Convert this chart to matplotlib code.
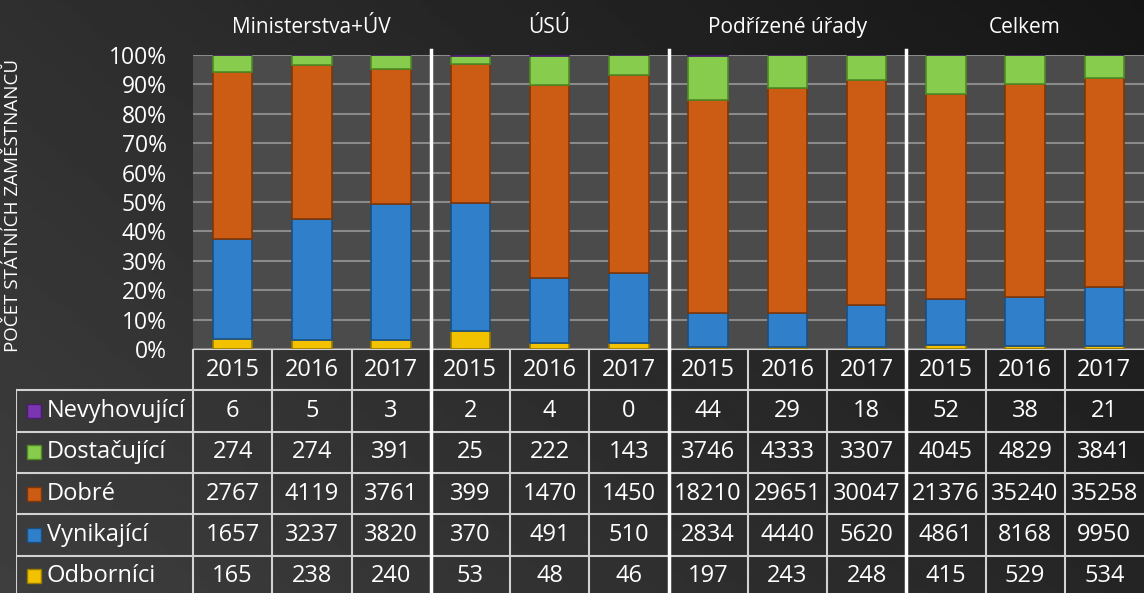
import numpy as np
import matplotlib.pyplot as plt
from matplotlib.patches import Rectangle

plt.rcParams['font.family'] = ['Open Sans', 'DejaVu Sans']

# ---- data ----
groups = ['Ministerstva+ÚV', 'ÚSÚ', 'Podřízené úřady', 'Celkem']
years = ['2015', '2016', '2017']
series = ['Nevyhovující', 'Dostačující', 'Dobré', 'Vynikající', 'Odborníci']

nevyhovujici = [6, 5, 3, 2, 4, 0, 44, 29, 18, 52, 38, 21]
dostacujici = [274, 274, 391, 25, 222, 143, 3746, 4333, 3307, 4045, 4829, 3841]
dobre = [2767, 4119, 3761, 399, 1470, 1450, 18210, 29651, 30047, 21376, 35240, 35258]
vynikajici = [1657, 3237, 3820, 370, 491, 510, 2834, 4440, 5620, 4861, 8168, 9950]
odbornici = [165, 238, 240, 53, 48, 46, 197, 243, 248, 415, 529, 534]

colors = {
    'Nevyhovující': '#7a35b0',
    'Dostačující': '#88cc4e',
    'Dobré': '#cc5c14',
    'Vynikající': '#2f7fca',
    'Odborníci': '#f2c200',
}
edges = {
    'Nevyhovující': '#4a1c70',
    'Dostačující': '#4f8a24',
    'Dobré': '#7e3608',
    'Vynikající': '#1a4f82',
    'Odborníci': '#9a7a00',
}

values = {
    'Nevyhovující': nevyhovujici,
    'Dostačující': dostacujici,
    'Dobré': dobre,
    'Vynikající': vynikajici,
    'Odborníci': odbornici,
}

W, H = 1144, 593
fig = plt.figure(figsize=(W / 100, H / 100), dpi=100)

# background gradient
bg = fig.add_axes([0, 0, 1, 1])
gx, gy = np.meshgrid(np.linspace(0, 1, 300), np.linspace(0, 1, 200))
grad = 0.245 - 0.10 * gx - 0.06 * gy
bg.imshow(grad, cmap='gray', vmin=0, vmax=1, aspect='auto', extent=[0, 1, 0, 1])
bg.set_xlim(0, 1)
bg.set_ylim(1, 0)
bg.axis('off')

# ---- bars ----
left_px, right_px = 193, 1144
top_px, base_px = 55, 349
ax = fig.add_axes([left_px / W, 1 - base_px / H, (right_px - left_px) / W, (base_px - top_px) / H])
ax.set_facecolor('#4b4b4b')

n = len(odbornici)
x = np.arange(n)
totals = np.sum([values[s] for s in series], axis=0)
bottom = np.zeros(n)
for s in series[::-1]:
    share = np.array(values[s]) / totals * 100
    ax.bar(x, share, width=0.5, bottom=bottom, color=colors[s],
           edgecolor=edges[s], linewidth=1.2, zorder=3)
    bottom += share

ax.set_xlim(-0.5, n - 0.5)
ax.set_ylim(0, 100)
ax.set_yticks(np.arange(0, 101, 10))
ax.set_yticklabels([f'{v}%' for v in range(0, 101, 10)])
ax.yaxis.grid(True, color='#8a8a8a', linewidth=1.5, zorder=0)
ax.set_xticks([])
ax.tick_params(axis='y', length=0, pad=19, labelsize=16.5, labelcolor='white')
for sp in ax.spines.values():
    sp.set_visible(False)

for k in (3, 6, 9):
    ax.plot([k - 0.5, k - 0.5], [0, 101.7], color='white', lw=2.5,
            clip_on=False, zorder=4)

for i, g in enumerate(groups):
    ax.text(3 * i + 1, 1.095, g, transform=ax.get_xaxis_transform(),
            ha='center', va='center', color='white', fontsize=15)

fig.text(12 / W, 1 - 352 / H, 'POČET STÁTNÍCH ZAMĚSTNANCŮ', rotation=90,
         ha='center', va='bottom', color='white', fontsize=13.5)

# ---- data table ----
colw = (right_px - left_px) / n
rowh = 41.3
tbl_left = 16
lab_w = (left_px - tbl_left) / colw
xl = -0.5 - lab_w
tab = fig.add_axes([tbl_left / W, 0, (right_px - tbl_left) / W, (H - base_px) / H])
tab.set_facecolor('none')
tab.set_xlim(xl, n - 0.5)
tab.set_ylim((H - base_px) / rowh, 0)
tab.axis('off')

line_c = '#d2d2d2'
ybot = (H - base_px) / rowh + 1
# horizontal lines
tab.plot([-0.5, n - 0.5], [0, 0], color=line_c, lw=1.5)
for r in range(1, 7):
    tab.plot([xl, n - 0.5], [r, r], color=line_c, lw=1.5)
# vertical lines
tab.plot([xl, xl], [1, ybot], color=line_c, lw=1.5)
for k in range(n):
    lw = 2.5 if k in (3, 6, 9) else 1.5
    c = 'white' if k in (3, 6, 9) else line_c
    tab.plot([k - 0.5, k - 0.5], [0, ybot], color=c, lw=lw)

for i in range(n):
    tab.text(i, 0.5, years[i % 3], ha='center', va='center', color='white', fontsize=17)

sq_w = 14 / colw
sq_h = 14 / rowh
for r, s in enumerate(series):
    yc = r + 1.5
    tab.add_patch(Rectangle((xl + 11 / colw, yc - sq_h / 2), sq_w, sq_h,
                            facecolor=colors[s], edgecolor=edges[s], lw=1))
    tab.text(xl + 31 / colw, yc, s, ha='left', va='center', color='white', fontsize=17)
    for i, v in enumerate(values[s]):
        tab.text(i, yc, str(v), ha='center', va='center', color='white', fontsize=17)

fig.savefig('out.png', dpi=100)
